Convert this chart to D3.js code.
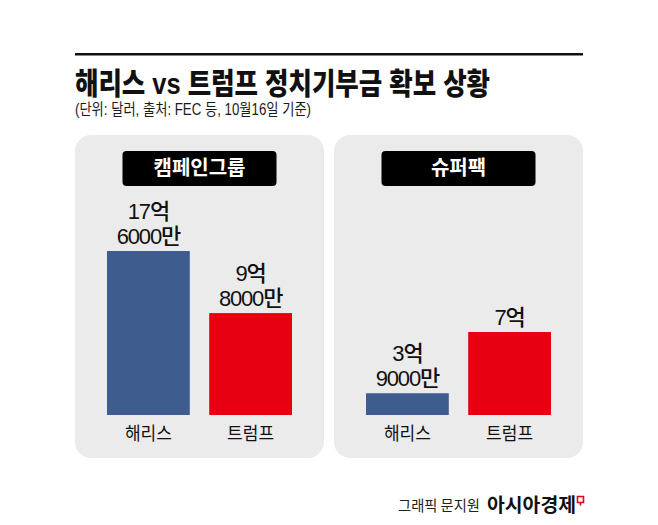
<!DOCTYPE html>
<html><head><meta charset="utf-8">
<script src="https://cdn.jsdelivr.net/npm/d3@7/dist/d3.min.js"></script>
<style>
html,body{margin:0;padding:0;background:#fff;}
svg{display:block;font-family:"Noto Sans CJK KR","Noto Sans",sans-serif;}
.tight{font-family:"Liberation Sans","Noto Sans CJK KR",sans-serif;}
</style></head>
<body><svg id="c" width="658" height="525"></svg>
<script>
// ---- data ----
const title = "해리스 vs 트럼프 정치기부금 확보 상황";
const subtitle = "(단위: 달러, 출처: FEC 등, 10월16일 기준)";
const panels = ["캠페인그룹", "슈퍼팩"];
const candidates = ["해리스", "트럼프"];
const campaignValues = [17.6, 9.8];   // 억 달러
const superPacValues = [3.9, 7.0];    // 억 달러
const campaignLabels = [["17억", "6000만"], ["9억", "8000만"]];
const superPacLabels = [["3억", "9000만"], ["7억"]];
const credit = "그래픽 문지원";
const brand = "아시아경제";

const colors = ["#3e5d8e", "#e60012"];
const svg = d3.select("#c");

// top rule
svg.append("rect").attr("x", 75).attr("y", 53).attr("width", 508).attr("height", 2.5).attr("fill", "#111");

svg.append("text").attr("class", "tight").attr("x", 75).attr("y", 93.5).text(title)
  .attr("font-size", 30).attr("font-weight", 900).attr("fill", "#111")
  .attr("textLength", 415).attr("lengthAdjust", "spacingAndGlyphs");
svg.append("text").attr("class", "tight").attr("x", 75).attr("y", 114.5).text(subtitle)
  .attr("font-size", 16).attr("fill", "#1a1a1a")
  .attr("textLength", 236).attr("lengthAdjust", "spacingAndGlyphs");

const panelData = [
  {name: panels[0], values: campaignValues, labels: campaignLabels, x: 75, domainMin: -3.0, h: 164},
  {name: panels[1], values: superPacValues, labels: superPacLabels, x: 334, domainMin: 2.8, h: 83}
];
const pw = 249, pTop = 135, pBottom = 458, baseY = 415;

panelData.forEach(p => {
  const g = svg.append("g").attr("transform", `translate(${p.x},0)`);
  g.append("rect").attr("x", 0).attr("y", pTop).attr("width", pw).attr("height", pBottom - pTop)
    .attr("rx", 16).attr("fill", "#ebebeb");
  // header
  g.append("rect").attr("x", pw / 2 - 77).attr("y", 151).attr("width", 154).attr("height", 35)
    .attr("rx", 4).attr("fill", "#000");
  g.append("text").attr("x", pw / 2).attr("y", 175).attr("text-anchor", "middle")
    .attr("font-size", 20).attr("font-weight", 700).attr("fill", "#fff").text(p.name);

  const x = d3.scaleBand().domain(candidates).range([32, 217]).paddingInner(0.19);
  const y = d3.scaleLinear().domain([p.domainMin, d3.max(p.values)]).range([baseY, baseY - p.h]);

  candidates.forEach((c, i) => {
    const v = p.values[i];
    const cx = x(c) + x.bandwidth() / 2;
    g.append("rect").attr("x", x(c)).attr("y", y(v)).attr("width", x.bandwidth())
      .attr("height", baseY - y(v)).attr("fill", colors[i]);
    const lines = p.labels[i];
    lines.forEach((t, j) => {
      g.append("text").attr("class", "tight").attr("x", cx)
        .attr("y", y(v) - 7 - (lines.length - 1 - j) * 25)
        .attr("text-anchor", "middle").attr("font-size", 22).attr("font-weight", 500)
        .attr("letter-spacing", -1.2).attr("fill", "#111").text(t);
    });
    g.append("text").attr("x", cx).attr("y", 440)
      .attr("text-anchor", "middle").attr("font-size", 18).attr("fill", "#111")
      .attr("textLength", 47).attr("lengthAdjust", "spacingAndGlyphs").text(c);
  });
});

// footer
svg.append("text").attr("x", 398).attr("y", 511).attr("font-size", 15).attr("fill", "#222")
  .attr("textLength", 82).attr("lengthAdjust", "spacingAndGlyphs").text(credit);
svg.append("text").attr("x", 487).attr("y", 512).attr("font-size", 19).attr("font-weight", 700).attr("fill", "#111")
  .attr("textLength", 89).attr("lengthAdjust", "spacingAndGlyphs").text(brand);
svg.append("path").attr("d", "M577.5,496.5 h6 v6 h-6 z M580.5,502.5 v3")
  .attr("fill", "none").attr("stroke", "#e60012").attr("stroke-width", 1.6);
</script></body></html>
